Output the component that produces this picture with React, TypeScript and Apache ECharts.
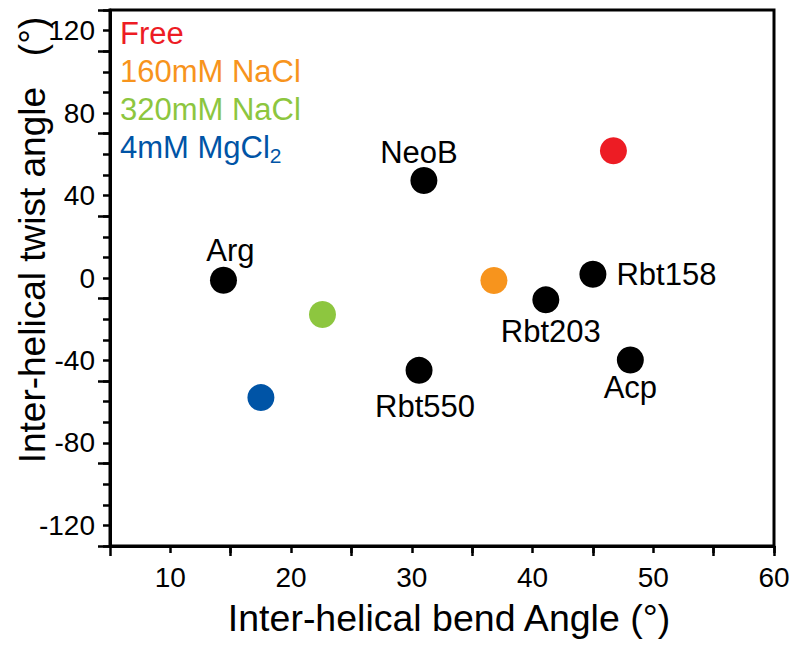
import React, { useEffect, useRef } from "react";
import * as echarts from "echarts";

// Ligand-bound structures (black points)
const compounds = ["Arg", "NeoB", "Rbt550", "Rbt203", "Rbt158", "Acp"];
const compoundBend = [14.4, 31.0, 30.6, 41.1, 45.0, 48.1];
const compoundTwist = [-1.1, 47.3, -44.8, -10.6, 1.8, -39.8];

// Free RNA under different ionic conditions (coloured points)
const conditions = ["Free", "160mM NaCl", "320mM NaCl", "4mM MgCl2"];
const conditionBend = [46.7, 36.8, 22.6, 17.5];
const conditionTwist = [61.7, -1.2, -17.7, -58.0];

// Axis tick labels
const xTickLabels = [10, 20, 30, 40, 50, 60];
const yTickLabels = [-120, -80, -40, 0, 40, 80, 120];

const FONT = "'Liberation Sans', Arial, Helvetica, sans-serif";
const conditionColors = ["#ed1c24", "#f7941d", "#8dc63f", "#0054a6"];

const labelPlacement: Record<string, { position: string; distance: number; offset: [number, number] }> = {
  Arg: { position: "top", distance: 1, offset: [7, 0] },
  NeoB: { position: "top", distance: -1, offset: [-5, 0] },
  Rbt550: { position: "bottom", distance: 7, offset: [6, 0] },
  Rbt203: { position: "bottom", distance: 3, offset: [5, 0] },
  Rbt158: { position: "right", distance: 10, offset: [0, 0] },
  Acp: { position: "bottom", distance: -2, offset: [0, 0] },
};

export default function App() {
  const ref = useRef<HTMLDivElement>(null);

  useEffect(() => {
    if (!ref.current) return;
    const chart = echarts.init(ref.current, null, { renderer: "svg" });

    const blackData = compounds.map((name, i) => {
      const p = labelPlacement[name];
      return {
        name,
        value: [compoundBend[i], compoundTwist[i]],
        label: {
          show: true,
          formatter: name,
          position: p.position,
          distance: p.distance,
          offset: p.offset,
        },
      };
    });

    const conditionSeries = conditions.map((name, i) => ({
      name,
      type: "scatter",
      xAxisIndex: 0,
      yAxisIndex: 0,
      symbolSize: 27,
      itemStyle: { color: conditionColors[i], opacity: 1 },
      data: [[conditionBend[i], conditionTwist[i]]],
      z: 3,
    }));

    const option: any = {
      animation: false,
      backgroundColor: "#ffffff",
      grid: {
        left: 110,
        right: 26,
        top: 10,
        bottom: 99,
        show: true,
        borderColor: "#000",
        borderWidth: 3,
        backgroundColor: "transparent",
      },
      legend: {
        orient: "vertical",
        left: 110,
        top: 9,
        icon: "none",
        itemWidth: 0,
        itemHeight: 0,
        itemGap: 0,
        selectedMode: false,
        data: conditions.map((name, i) => ({
          name,
          textStyle: {
            color: conditionColors[i],
            rich: {
              a: { color: conditionColors[i], fontSize: 31, fontFamily: FONT, lineHeight: 38 },
              sub: { color: conditionColors[i], fontSize: 21, fontFamily: FONT, lineHeight: 20, verticalAlign: "bottom" },
            },
          },
        })),
        formatter: (name: string) => {
          if (name.endsWith("MgCl2")) return "{a|" + name.slice(0, -1) + "}{sub|2}";
          return "{a|" + name + "}";
        },
        textStyle: { fontSize: 31, fontFamily: FONT, lineHeight: 38 },
      },
      xAxis: [
        {
          type: "value",
          min: 5,
          max: 60,
          interval: 5,
          position: "bottom",
          name: "Inter-helical bend Angle (°)",
          nameLocation: "middle",
          nameGap: 53,
          nameTextStyle: { fontSize: 37.5, fontFamily: FONT, color: "#000", padding: [0, 0, 0, 14] },
          axisLine: { show: true, onZero: false, lineStyle: { color: "#000", width: 3 } },
          axisTick: { show: true, length: 7, lineStyle: { color: "#000", width: 2.5 } },
          axisLabel: {
            fontSize: 28,
            fontFamily: FONT,
            color: "#000",
            margin: 17,
            showMinLabel: false,
            formatter: (v: number) => (xTickLabels.includes(v) ? String(v) : ""),
          },
          splitLine: { show: false },
        },
        {
          type: "value",
          min: 5,
          max: 60,
          interval: 10,
          position: "bottom",
          axisLine: { show: false, onZero: false },
          axisTick: { show: true, length: 10, lineStyle: { color: "#000", width: 2.5 } },
          axisLabel: { show: false },
          splitLine: { show: false },
        },
      ],
      yAxis: [
        {
          type: "value",
          min: -130,
          max: 130,
          interval: 10,
          position: "left",
          axisLine: { show: true, onZero: false, lineStyle: { color: "#000", width: 3 } },
          axisTick: { show: true, length: 7, lineStyle: { color: "#000", width: 2.5 } },
          axisLabel: {
            fontSize: 28,
            fontFamily: FONT,
            color: "#000",
            margin: 15,
            formatter: (v: number) => (yTickLabels.includes(v) ? String(v) : ""),
          },
          splitLine: { show: false },
        },
        {
          type: "value",
          min: -130,
          max: 130,
          interval: 40,
          position: "left",
          axisLine: { show: false, onZero: false },
          axisTick: { show: true, length: 12, lineStyle: { color: "#000", width: 2.5 } },
          axisLabel: { show: false },
          splitLine: { show: false },
        },
      ],
      graphic: [
        {
          type: "text",
          x: 32,
          y: 240,
          rotation: Math.PI / 2,
          style: {
            text: "Inter-helical twist angle\u00a0\u00a0\u00a0(°)",
            fontSize: 37,
            fontFamily: FONT,
            fill: "#000",
            align: "center",
            verticalAlign: "middle",
          },
        },
      ],
      series: [
        {
          name: "Compounds",
          type: "scatter",
          xAxisIndex: 0,
          yAxisIndex: 0,
          symbolSize: 27,
          itemStyle: { color: "#000", opacity: 1 },
          label: { color: "#000", fontSize: 31, fontFamily: FONT },
          data: blackData,
          z: 3,
        },
        ...conditionSeries,
      ],
    };

    chart.setOption(option);
    return () => chart.dispose();
  }, []);

  return (
    <div
      ref={ref}
      style={{ position: "absolute", left: 0, top: 0, width: 800, height: 645 }}
    />
  );
}
